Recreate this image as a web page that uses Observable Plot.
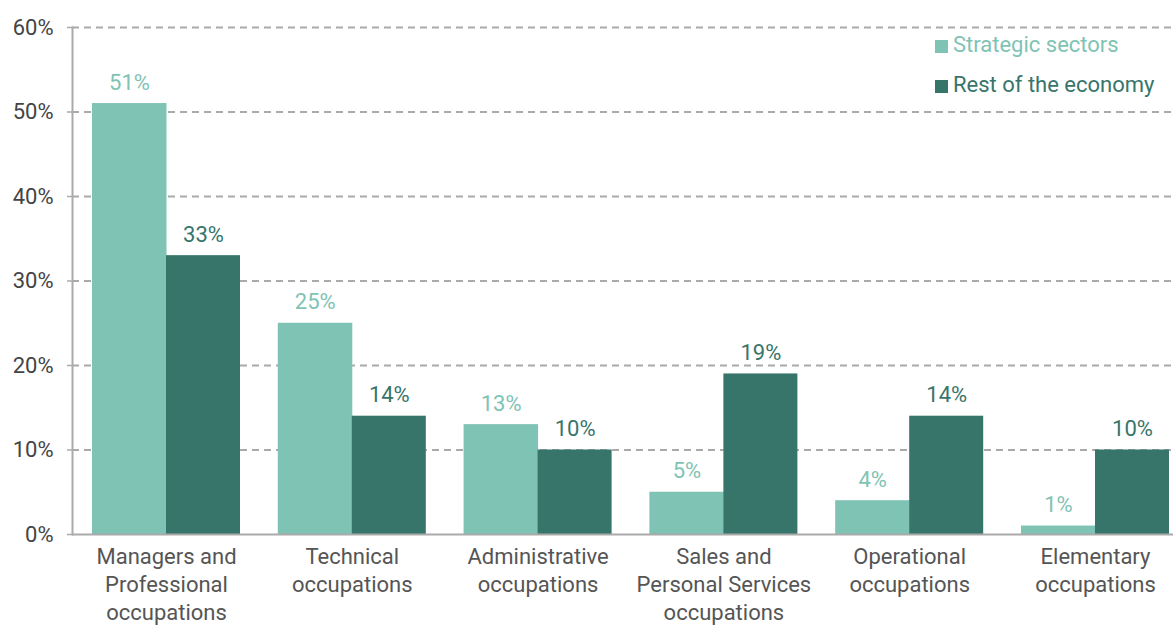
<!DOCTYPE html>
<html>
<head>
<meta charset="utf-8">
<script src="https://cdn.jsdelivr.net/npm/d3@7"></script>
<script src="https://cdn.jsdelivr.net/npm/@observablehq/plot@0.6"></script>
<style>
  html, body { margin: 0; padding: 0; background: #fff; }
  #wrap { position: relative; width: 1173px; height: 625px; font-family: Roboto, sans-serif; }
  .legend { position: absolute; left: 935px; top: 24px; font-size: 22px; }
  .legend div { display: flex; align-items: center; height: 40px; }
  .legend span.sw { display: inline-block; width: 13px; height: 13px; margin-right: 5px; margin-top: 4px; }
</style>
</head>
<body>
<div id="wrap"></div>
<script>
const categories = [
  "Managers and Professional occupations",
  "Technical occupations",
  "Administrative occupations",
  "Sales and Personal Services occupations",
  "Operational occupations",
  "Elementary occupations"
];
const categoryLabels = [
  "Managers and\nProfessional\noccupations",
  "Technical\noccupations",
  "Administrative\noccupations",
  "Sales and\nPersonal Services\noccupations",
  "Operational\noccupations",
  "Elementary\noccupations"
];
const seriesNames = ["Strategic sectors", "Rest of the economy"];
const strategic = [51, 25, 13, 5, 4, 1];
const rest = [33, 14, 10, 19, 14, 10];
const yTicks = [0, 10, 20, 30, 40, 50, 60];
const colors = ["#7fc3b4", "#37756a"];

const W = 1173, H = 625;
const mL = 72, mR = 0, mT = 27, mB = 91;
const pInner = 0.2034, pOuter = 0.0646, align = 0.833;
const step = (W - mL - mR) / (categories.length - pInner + 2 * pOuter);
const bw = step * (1 - pInner);
const half = bw / 2;

const dataS = categories.map((c, i) => ({cat: c, value: strategic[i]}));
const dataR = categories.map((c, i) => ({cat: c, value: rest[i]}));
const labelMap = new Map(categories.map((c, i) => [c, categoryLabels[i]]));

const font = "Roboto, sans-serif";

const chart = Plot.plot({
  width: W, height: H,
  marginLeft: mL, marginRight: mR, marginTop: mT, marginBottom: mB,
  style: {fontFamily: font, fontSize: "22px", background: "#fff", overflow: "visible"},
  x: {domain: categories, paddingInner: pInner, paddingOuter: pOuter, align: align, round: false, axis: null},
  y: {domain: [0, 60], ticks: yTicks, axis: null},
  marks: [
    Plot.gridY(yTicks.filter(d => d > 0), {stroke: "#aaa", strokeOpacity: 1, strokeWidth: 2, strokeDasharray: "7,5"}),
    Plot.barY(dataS, {x: "cat", y: "value", fill: colors[0], insetRight: half - 0.5, insetLeft: 0}),
    Plot.barY(dataR, {x: "cat", y: "value", fill: colors[1], insetLeft: half, insetRight: 0}),
    Plot.text(dataS, {x: "cat", y: "value", text: d => d.value + "%", dx: -half / 2, dy: -21, fill: colors[0], fontSize: 22}),
    Plot.text(dataR, {x: "cat", y: "value", text: d => d.value + "%", dx: half / 2, dy: -21, fill: colors[1], fontSize: 22}),
    Plot.axisY(yTicks, {tickFormat: d => d + "%", tickSize: 5, tickPadding: 14, stroke: "#aaa", strokeWidth: 1.5, fill: "#444", fontSize: 22, label: null}),
    Plot.ruleY([0], {stroke: "#aaa", strokeWidth: 2}),
    Plot.frame({anchor: "left", stroke: "#aaa", strokeWidth: 2}),
    Plot.text(categories, {x: d => d, text: d => labelMap.get(d), frameAnchor: "bottom", lineAnchor: "top", dy: 10, lineHeight: 1.27, fill: "#555", fontSize: 22})
  ]
});

const wrap = document.getElementById("wrap");
wrap.appendChild(chart);
const legend = document.createElement("div");
legend.className = "legend";
seriesNames.forEach((name, i) => {
  const row = document.createElement("div");
  const sw = document.createElement("span");
  sw.className = "sw";
  sw.style.background = colors[i];
  const t = document.createElement("span");
  t.textContent = name;
  t.style.color = colors[i];
  row.appendChild(sw);
  row.appendChild(t);
  legend.appendChild(row);
});
wrap.appendChild(legend);
</script>
</body>
</html>
